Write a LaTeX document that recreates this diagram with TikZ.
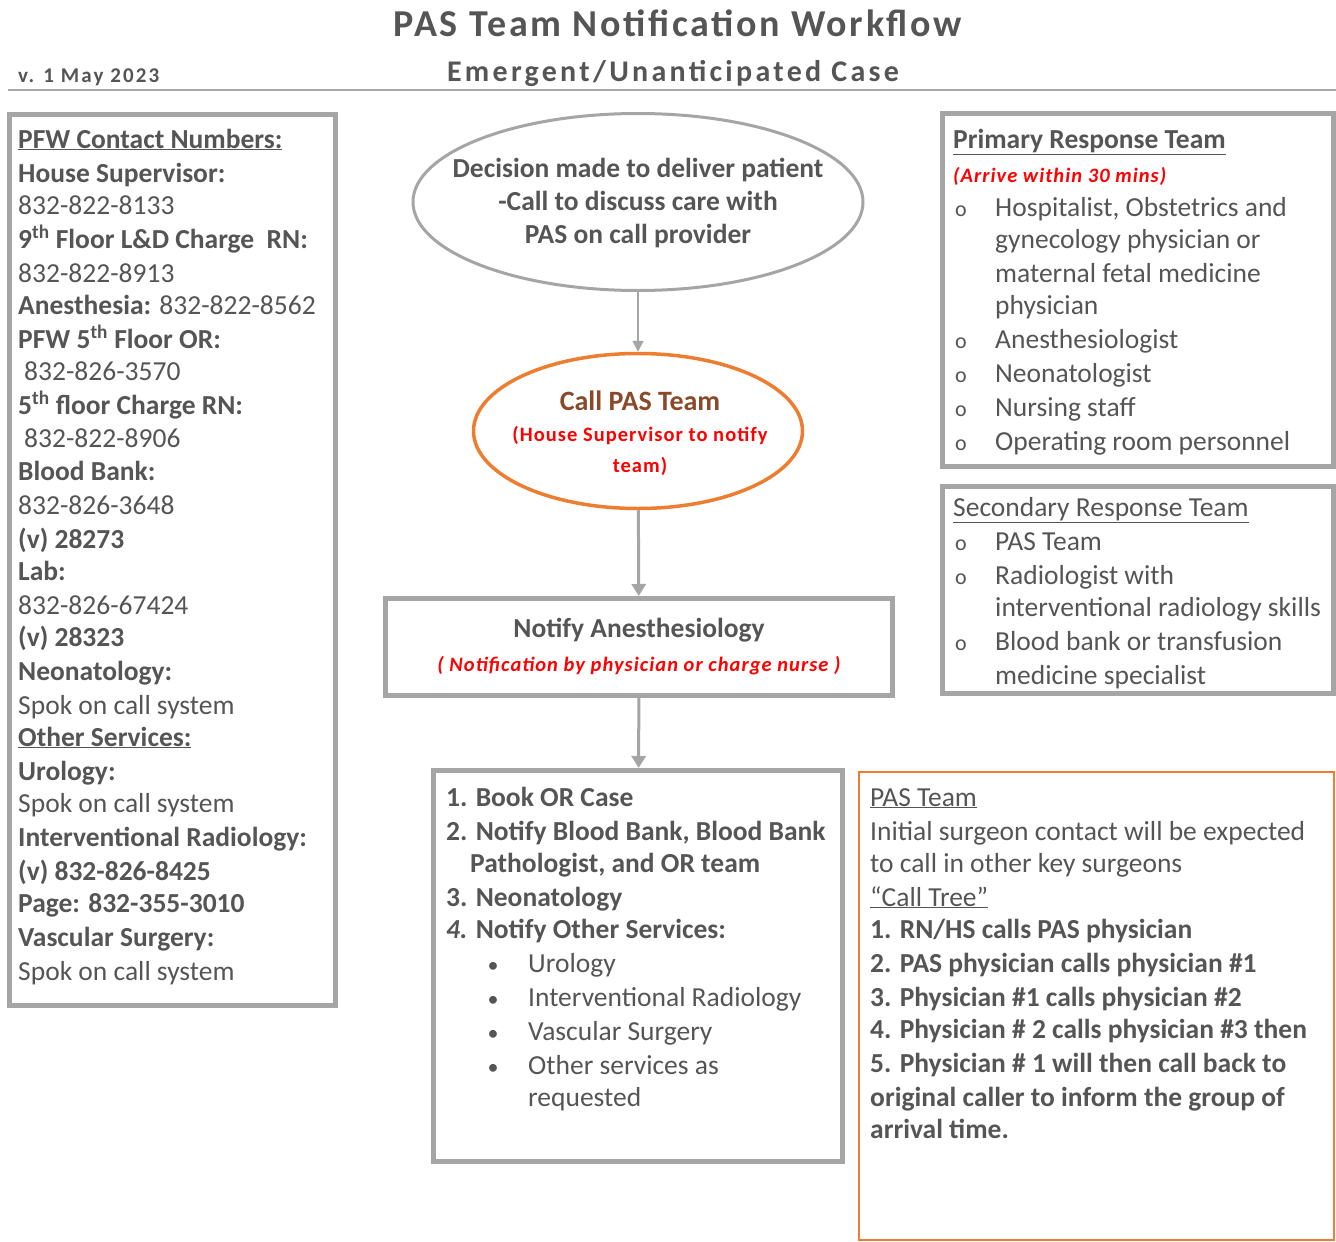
\documentclass[tikz,border=0pt]{standalone}
\usepackage{fontspec}
\setmainfont{Carlito}
\usetikzlibrary{arrows.meta,shapes.geometric}
\definecolor{txt}{HTML}{555555}
\definecolor{bord}{HTML}{A5A5A5}
\definecolor{orng}{HTML}{ED7D31}
\definecolor{brn}{HTML}{8A4A2A}
\definecolor{myred}{HTML}{FF0000}
\newcommand\fsn{\fontsize{27.5}{33}\selectfont}
\newcommand\fsr{\fontsize{20.5}{31}\selectfont}
\begin{document}
\begin{tikzpicture}[x=1pt,y=-1pt,
  tl/.style={anchor=base west, inner sep=0pt, text=txt, font=\fsn},
  rd/.style={anchor=base west, inner sep=0pt, text=myred, font=\fsr\bfseries\itshape\addfontfeature{LetterSpace=5}},
  bl/.style={anchor=base, inner sep=0pt, text=txt, font=\fontsize{22}{24}\selectfont},
  gbox/.style={draw=bord, line width=5pt, inner sep=0pt},
  arrthin/.style={draw=bord, line width=1.5pt, -{Triangle[length=11pt,width=11pt]}},
  arrthick/.style={draw=bord, line width=3pt, -{Triangle[length=12pt,width=14pt]}}]
\useasboundingbox (0,0) rectangle (1336,1242);
\fill[white] (0,0) rectangle (1336,1242);
% header
\node[anchor=base, inner sep=0pt, text=txt, font=\fontsize{38}{42}\selectfont\bfseries\addfontfeature{LetterSpace=7}] (title) at (678,36) {PAS Team Notification Workflow};
\node[anchor=base, inner sep=0pt, text=txt, font=\fontsize{30}{34}\selectfont\bfseries\addfontfeature{LetterSpace=11}] (sub) at (673,81) {Emergent/Unanticipated Case};
\node[anchor=base west, inner sep=0pt, text=txt, font=\fontsize{21}{24}\selectfont\bfseries\addfontfeature{LetterSpace=10}] (ver) at (18,82) {v. 1 May 2023};
\coordinate (hl) at (8,90);
\coordinate (hr) at (1336,90);
\draw[bord, line width=2pt] (hl) -- (hr);
% left box
\node[gbox, minimum width=326pt, minimum height=891pt] (left) at (172.5,560) {};
\node[tl] (l1) at (18,148) {\textbf{\underline{PFW Contact Numbers:}}};
\node[tl] (l2) at (18,182) {\textbf{House Supervisor:}};
\node[tl] (l3) at (18,214) {832-822-8133};
\node[tl] (l4) at (18,248) {\textbf{9\textsuperscript{th} Floor L\&D Charge\ \ RN:}};
\node[tl] (l5) at (18,282) {832-822-8913};
\node[tl] (l6) at (18,314) {\textbf{Anesthesia:} 832-822-8562};
\node[tl] (l7) at (18,348) {\textbf{PFW 5\textsuperscript{th} Floor OR:}};
\node[tl] (l8) at (24,380) {832-826-3570};
\node[tl] (l9) at (18,414) {\textbf{5\textsuperscript{th} floor Charge RN:}};
\node[tl] (l10) at (24,447) {832-822-8906};
\node[tl] (l11) at (18,480) {\textbf{Blood Bank:}};
\node[tl] (l12) at (18,514) {832-826-3648};
\node[tl] (l13) at (18,548) {\textbf{(v) 28273}};
\node[tl] (l14) at (18,580) {\textbf{Lab:}};
\node[tl] (l15) at (18,614) {832-826-67424};
\node[tl] (l16) at (18,646) {\textbf{(v) 28323}};
\node[tl] (l17) at (18,680) {\textbf{Neonatology:}};
\node[tl] (l18) at (18,714) {Spok on call system};
\node[tl] (l19) at (18,746) {\textbf{\underline{Other Services:}}};
\node[tl] (l20) at (18,780) {\textbf{Urology:}};
\node[tl] (l21) at (18,812) {Spok on call system};
\node[tl] (l22) at (18,846) {\textbf{Interventional Radiology:}};
\node[tl] (l23) at (18,880) {\textbf{(v) 832-826-8425}};
\node[tl] (l24) at (18,912) {\textbf{Page: 832-355-3010}};
\node[tl] (l25) at (18,946) {\textbf{Vascular Surgery:}};
\node[tl] (l26) at (18,980) {Spok on call system};
% center flow
\node[ellipse, draw=bord, line width=3pt, minimum width=450pt, minimum height=177pt, inner sep=0pt] (e1) at (638,202) {};
\node[align=center, text=txt, font=\fontsize{27.5}{33}\selectfont\bfseries, inner sep=0pt] (e1t) at (638,203) {Decision made to deliver patient\\-Call to discuss care with\\PAS on call provider};
\node[ellipse, draw=orng, line width=3.5pt, minimum width=329pt, minimum height=155pt, inner sep=0pt] (e2) at (638,431) {};
\node[align=center, text=myred, font=\fsr\bfseries\addfontfeature{LetterSpace=5}, inner sep=0pt] (e2t) at (640,433) {{\fontsize{28}{31}\selectfont\addfontfeature{LetterSpace=0}\color{brn}Call PAS Team}\\(House Supervisor to notify\\team)};
\node[gbox, minimum width=507pt, minimum height=97pt, align=center, text=myred, font=\fontsize{20.5}{34}\selectfont\bfseries\itshape\addfontfeature{LetterSpace=5}] (na) at (639,647) {{\fsn\upshape\addfontfeature{LetterSpace=0}\color{txt}Notify Anesthesiology}\\( Notification by physician or charge nurse )};
\node[gbox, minimum width=409pt, minimum height=391pt] (list) at (638,966) {};
\draw[arrthin] (e1) -- (e2);
\draw[arrthick] (e2) -- (na);
\draw[arrthick] (na) -- (list);
\node[tl] (b1) at (446,806) {\textbf{1. Book OR Case}};
\node[tl] (b2) at (446,840) {\textbf{2. Notify Blood Bank, Blood Bank}};
\node[tl] (b3) at (470,872) {\textbf{Pathologist, and OR team}};
\node[tl] (b4) at (446,906) {\textbf{3. Neonatology}};
\node[tl] (b5) at (446,938) {\textbf{\textit{4.} Notify Other Services:}};
\node[bl] (d1) at (493,972) {\textbullet};
\node[bl] (d2) at (493,1006) {\textbullet};
\node[bl] (d3) at (493,1040) {\textbullet};
\node[bl] (d4) at (493,1074) {\textbullet};
\node[tl] (b6) at (528,972) {Urology};
\node[tl] (b7) at (528,1006) {Interventional Radiology};
\node[tl] (b8) at (528,1040) {Vascular Surgery};
\node[tl] (b9) at (528,1074) {Other services as};
\node[tl] (b10) at (528,1106) {requested};
% primary
\node[gbox, minimum width=391pt, minimum height=353pt] (prim) at (1137.5,289.5) {};
\node[tl] (p1) at (953,148) {\textbf{\underline{Primary Response Team}}};
\node[rd] (p2) at (953,182) {(Arrive within 30 mins)};
\node[bl] (po1) at (961,216) {o};
\node[bl] (po2) at (961,348) {o};
\node[bl] (po3) at (961,382) {o};
\node[bl] (po4) at (961,416) {o};
\node[bl] (po5) at (961,450) {o};
\node[tl] (p3) at (995,216) {Hospitalist, Obstetrics and};
\node[tl] (p4) at (995,248) {gynecology physician or};
\node[tl] (p5) at (995,282) {maternal fetal medicine};
\node[tl] (p6) at (995,314) {physician};
\node[tl] (p7) at (995,348) {Anesthesiologist};
\node[tl] (p8) at (995,382) {Neonatologist};
\node[tl] (p9) at (995,416) {Nursing staff};
\node[tl] (p10) at (995,450) {Operating room personnel};
% secondary
\node[gbox, minimum width=391pt, minimum height=207pt] (sec) at (1137.5,589.5) {};
\node[tl] (s1) at (953,516) {\underline{Secondary Response Team}};
\node[bl] (so1) at (961,550) {o};
\node[bl] (so2) at (961,584) {o};
\node[bl] (so3) at (961,650) {o};
\node[tl] (s2) at (995,550) {PAS Team};
\node[tl] (s3) at (995,584) {Radiologist with};
\node[tl] (s4) at (995,616) {interventional radiology skills};
\node[tl] (s5) at (995,650) {Blood bank or transfusion};
\node[tl] (s6) at (995,684) {medicine specialist};
% PAS team box
\node[draw=orng, line width=2.5pt, minimum width=475pt, minimum height=468pt, inner sep=0pt] (pas) at (1096.5,1006) {};
\node[tl] (c1) at (870,806) {\underline{PAS Team}};
\node[tl] (c2) at (870,840) {Initial surgeon contact will be expected};
\node[tl] (c3) at (870,872) {to call in other key surgeons};
\node[tl] (c4) at (870,906) {\underline{“Call Tree”}};
\node[tl] (c5) at (870,938) {\textbf{1. RN/HS calls PAS physician}};
\node[tl] (c6) at (870,972) {\textbf{2. PAS physician calls physician \#1}};
\node[tl] (c7) at (870,1006) {\textbf{3. Physician \#1 calls physician \#2}};
\node[tl] (c8) at (870,1038) {\textbf{4. Physician \# 2 calls physician \#3 then}};
\node[tl] (c9) at (870,1072) {\textbf{5. Physician \# 1 will then call back to}};
\node[tl] (c10) at (870,1106) {\textbf{original caller to inform the group of}};
\node[tl] (c11) at (870,1138) {\textbf{arrival time.}};
\end{tikzpicture}
\end{document}
